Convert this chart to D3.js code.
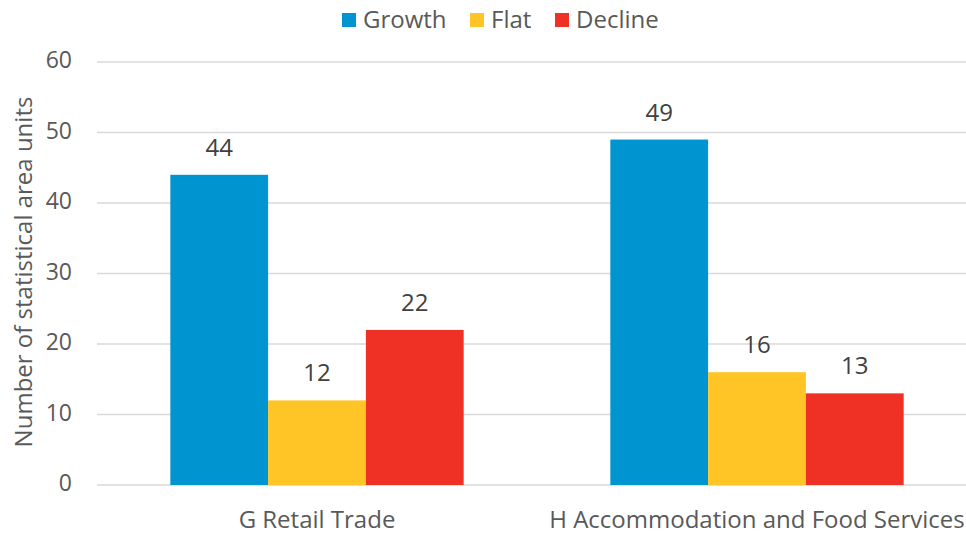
<!DOCTYPE html>
<html>
<head>
<meta charset="utf-8">
<script src="https://cdn.jsdelivr.net/npm/d3@7"></script>
<style>
  body { margin: 0; background: #fff; }
  svg text { font-family: "Open Sans", sans-serif; }
</style>
</head>
<body>
<div id="chart"></div>
<script>
const categories = ["G Retail Trade", "H Accommodation and Food Services"];
const seriesNames = ["Growth", "Flat", "Decline"];
const growth = [44, 49];
const flat = [12, 16];
const decline = [22, 13];
const yTicks = [0, 10, 20, 30, 40, 50, 60];

const colors = ["#0094d1", "#ffc425", "#ee3124"];

const width = 966;
const height = 534;
const margin = { top: 62, right: -11, bottom: 49, left: 97 };

const data = categories.map(function(c, i) {
  return { category: c, values: [growth[i], flat[i], decline[i]] };
});

const svg = d3
  .select("#chart")
  .append("svg")
  .attr("width", width)
  .attr("height", height);

// scales
const x0 = d3
  .scaleBand()
  .domain(categories)
  .range([margin.left, width - margin.right])
  .padding(0);

const x1 = d3
  .scaleBand()
  .domain(seriesNames)
  .range([0, x0.bandwidth()])
  .paddingInner(0)
  .paddingOuter(0.75);

const y = d3
  .scaleLinear()
  .domain([0, 60])
  .range([height - margin.bottom, margin.top]);

// gridlines
svg
  .append("g")
  .attr("class", "grid")
  .selectAll("line")
  .data(yTicks)
  .enter()
  .append("line")
  .attr("x1", margin.left)
  .attr("x2", width)
  .attr("y1", function(d) { return y(d); })
  .attr("y2", function(d) { return y(d); })
  .attr("stroke", "#d9d9d9")
  .attr("stroke-width", 1.5);

// y axis labels
const yAxis = svg
  .append("g")
  .attr("transform", "translate(" + (margin.left - 25) + ",0)")
  .call(d3.axisLeft(y).tickValues(yTicks).tickSize(0).tickPadding(0));
yAxis.select(".domain").remove();
yAxis
  .selectAll("text")
  .attr("dy", "0.24em")
  .attr("fill", "#595959")
  .style("font-size", "23px");

// x axis labels
const xAxis = svg
  .append("g")
  .attr("transform", "translate(0," + (height - margin.bottom) + ")")
  .call(d3.axisBottom(x0).tickSize(0).tickPadding(26));
xAxis.select(".domain").remove();
xAxis
  .selectAll("text")
  .attr("fill", "#595959")
  .style("font-size", "24px");

// bars
const group = svg
  .selectAll(".group")
  .data(data)
  .enter()
  .append("g")
  .attr("class", "group")
  .attr("transform", function(d) {
    return "translate(" + x0(d.category) + ",0)";
  });

const cells = group
  .selectAll(".cell")
  .data(function(d) {
    return d.values.map(function(v, i) {
      return { name: seriesNames[i], value: v, i: i };
    });
  })
  .enter();

cells
  .append("rect")
  .attr("x", function(d) { return x1(d.name); })
  .attr("width", x1.bandwidth())
  .attr("y", function(d) { return y(d.value); })
  .attr("height", function(d) { return y(0) - y(d.value); })
  .attr("fill", function(d) { return colors[d.i]; });

cells
  .append("text")
  .attr("x", function(d) { return x1(d.name) + x1.bandwidth() / 2; })
  .attr("y", function(d) { return y(d.value) - 19; })
  .attr("text-anchor", "middle")
  .attr("fill", "#404040")
  .style("font-size", "24px")
  .text(function(d) { return d.value; });

// y axis title
svg
  .append("text")
  .attr("transform", "translate(32,272) rotate(-90)")
  .attr("text-anchor", "middle")
  .attr("fill", "#595959")
  .style("font-size", "24px")
  .text("Number of statistical area units");

// legend
const legendX = [342, 470, 555];
const legend = svg
  .selectAll(".legend")
  .data(seriesNames)
  .enter()
  .append("g")
  .attr("class", "legend")
  .attr("transform", function(d, i) {
    return "translate(" + legendX[i] + ",13)";
  });

legend
  .append("rect")
  .attr("width", 14)
  .attr("height", 14)
  .attr("fill", function(d, i) { return colors[i]; });

legend
  .append("text")
  .attr("x", 21)
  .attr("y", 7)
  .attr("dy", "0.35em")
  .attr("fill", "#595959")
  .style("font-size", "24px")
  .text(function(d) { return d; });
</script>
</body>
</html>
